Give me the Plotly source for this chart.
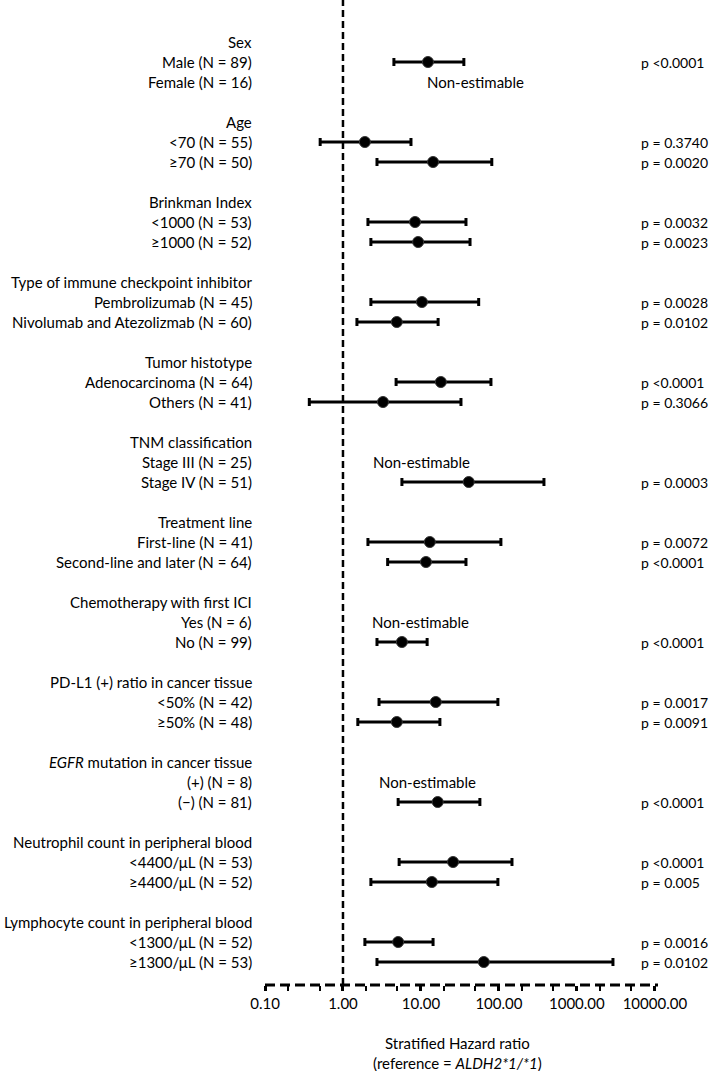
import math
import plotly.graph_objects as go

# ---------------- data ----------------
group_titles = [
    "Sex", "Age", "Brinkman Index", "Type of immune checkpoint inhibitor",
    "Tumor histotype", "TNM classification", "Treatment line",
    "Chemotherapy with first ICI", "PD-L1 (+) ratio in cancer tissue",
    "<i>EGFR</i> mutation in cancer tissue",
    "Neutrophil count in peripheral blood", "Lymphocyte count in peripheral blood",
]
subgroups = [
    "Male (N = 89)", "Female (N = 16)",
    "<70 (N = 55)", "≥70 (N = 50)",
    "<1000 (N = 53)", "≥1000 (N = 52)",
    "Pembrolizumab (N = 45)", "Nivolumab and Atezolizmab (N = 60)",
    "Adenocarcinoma (N = 64)", "Others (N = 41)",
    "Stage III (N = 25)", "Stage IV (N = 51)",
    "First-line (N = 41)", "Second-line and later (N = 64)",
    "Yes (N = 6)", "No (N = 99)",
    "<50% (N = 42)", "≥50% (N = 48)",
    "(+) (N = 8)", "(−) (N = 81)",
    "<4400/μL (N = 53)", "≥4400/μL (N = 52)",
    "<1300/μL (N = 52)", "≥1300/μL (N = 53)",
]
hr = [12.3, None, 1.91, 14.3, 8.4, 9.2, 10.3, 4.9, 18.0, 3.26, None, 41.0,
      13.0, 11.6, None, 5.7, 15.5, 4.9, None, 16.4, 25.8, 13.8, 5.1, 64.0]
ci_low = [4.5, None, 0.51, 2.73, 2.09, 2.28, 2.28, 1.51, 4.8, 0.37, None, 5.7,
          2.09, 3.74, None, 2.73, 2.9, 1.55, None, 5.1, 5.25, 2.28, 1.91, 2.73]
ci_high = [35.5, None, 7.45, 81.0, 37.8, 42.6, 55.0, 16.6, 79.0, 32.6, None, 378.0,
           106.0, 37.8, None, 12.0, 97.0, 17.5, None, 57.0, 147.0, 97.0, 14.3, 2900.0]
p_values = ["p <0.0001", "", "p = 0.3740", "p = 0.0020", "p = 0.0032", "p = 0.0023",
            "p = 0.0028", "p = 0.0102", "p <0.0001", "p = 0.3066", "", "p = 0.0003",
            "p = 0.0072", "p <0.0001", "", "p <0.0001", "p = 0.0017", "p = 0.0091",
            "", "p <0.0001", "p <0.0001", "p = 0.005", "p = 0.0016", "p = 0.0102"]
nonest_x = [None, 11.3, None, None, None, None, None, None, None, None, 2.29, None,
            None, None, 2.25, None, None, None, 2.73, None, None, None, None, None]
x_ticks = [0.1, 1, 10, 100, 1000, 10000]
x_ticklabels = ["0.10", "1.00", "10.00", "100.00", "1000.00", "10000.00"]

# ---------------- layout helpers ----------------
FONT = "Lato"
sub_rows = [4 * (i // 2) + 1 + (i % 2) for i in range(len(subgroups))]
head_rows = [4 * g for g in range(len(group_titles))]

est_idx = [i for i, v in enumerate(hr) if v is not None]
ys = [sub_rows[i] for i in est_idx]
xs = [hr[i] for i in est_idx]
plus = [ci_high[i] - hr[i] for i in est_idx]
minus = [hr[i] - ci_low[i] for i in est_idx]

fig = go.Figure()
fig.add_trace(go.Scatter(
    x=xs, y=ys, mode="markers",
    marker=dict(symbol="circle", size=11, color="black",
                line=dict(color="#333", width=1)),
    error_x=dict(type="data", symmetric=False, array=plus, arrayminus=minus,
                 color="black", thickness=3, width=4),
    showlegend=False, hoverinfo="skip",
))

annotations = []
LABEL_X = -0.028
lab_font = dict(family=FONT, size=15, color="black")
for r, t in zip(head_rows, group_titles):
    annotations.append(dict(x=LABEL_X, xref="paper", y=r, yref="y", text=t,
                            xanchor="right", yanchor="middle", showarrow=False,
                            font=lab_font))
for r, t in zip(sub_rows, subgroups):
    annotations.append(dict(x=LABEL_X, xref="paper", y=r, yref="y", text=t,
                            xanchor="right", yanchor="middle", showarrow=False,
                            font=lab_font))
for r, t in zip(sub_rows, p_values):
    if t:
        annotations.append(dict(x=0.952, xref="paper", y=r, yref="y", text=t,
                                xanchor="left", yanchor="middle", showarrow=False,
                                font=dict(family=FONT, size=14, color="black")))
for r, nx in zip(sub_rows, nonest_x):
    if nx is not None:
        annotations.append(dict(x=math.log10(nx), xref="x", y=r, yref="y",
                                text="Non-estimable", xanchor="left", yanchor="middle",
                                showarrow=False, font=lab_font))

annotations.append(dict(x=0.49, xref="paper", y=-0.048, yref="paper",
                        text="Stratified Hazard ratio<br>(reference = <i>ALDH2*1/*1</i>)",
                        xanchor="center", yanchor="top", showarrow=False,
                        font=dict(family=FONT, size=15, color="black")))

shapes = [
    dict(type="line", xref="x", yref="paper", x0=1, x1=1, y0=0, y1=1,
         line=dict(color="black", width=2.5, dash="7px,4px")),
    dict(type="line", xref="paper", yref="paper", x0=0, x1=1, y0=0, y1=0,
         line=dict(color="black", width=3, dash="10px,5px")),
]

fig.update_layout(
    width=709, height=1071,
    margin=dict(l=265, r=51, t=0, b=86),
    paper_bgcolor="white", plot_bgcolor="white",
    font=dict(family=FONT, size=15, color="black"),
    annotations=annotations, shapes=shapes,
    xaxis=dict(type="log", range=[-1.0, 4.04], tickvals=x_ticks, ticktext=x_ticklabels,
               showgrid=False, zeroline=False, showline=False,
               ticks="outside", ticklen=5, tickwidth=3, tickcolor="black",
               tickfont=dict(family=FONT, size=15, color="black"),
               minor=dict(ticks="outside", ticklen=5, tickwidth=2, tickcolor="black",
                          showgrid=False),
               fixedrange=True),
    yaxis=dict(range=[47.15, -2.1], showgrid=False, zeroline=False, showline=False,
               showticklabels=False, ticks="", fixedrange=True),
)

fig.write_html("out.html", config={"displayModeBar": False},
               post_script="document.body.style.margin='0';document.body.style.overflow='hidden';")
